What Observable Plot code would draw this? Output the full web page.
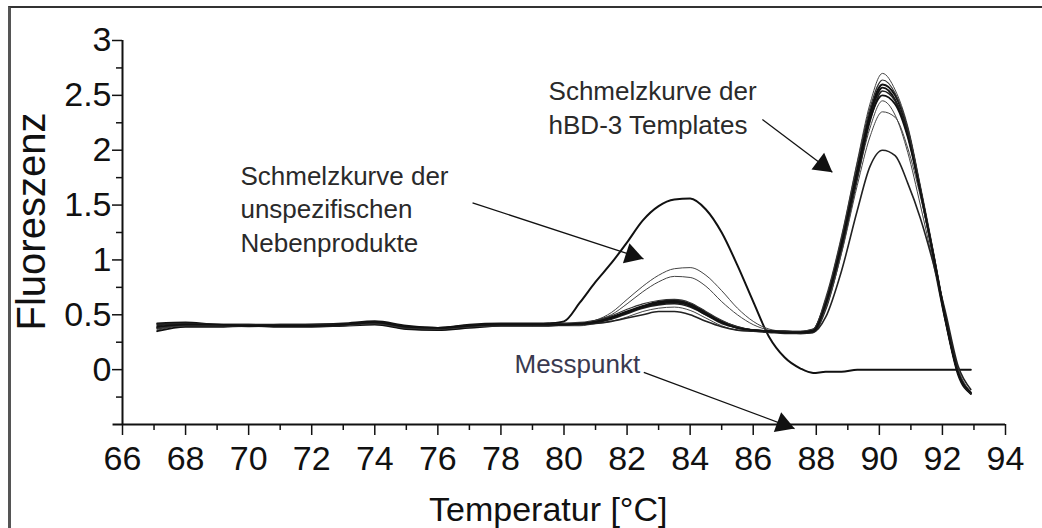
<!DOCTYPE html>
<html><head><meta charset="utf-8">
<script src="https://cdn.jsdelivr.net/npm/d3@7"></script>
<script src="https://cdn.jsdelivr.net/npm/@observablehq/plot@0.6"></script>
<style>
html,body{margin:0;padding:0;background:#fff;}
#wrap{position:relative;width:1042px;height:528px;overflow:hidden;background:#fff;}
#frame{position:absolute;left:8px;top:6px;width:1100px;height:600px;border-left:3px solid #555;border-top:2px solid #333;box-sizing:border-box;pointer-events:none;}
#chart{position:absolute;left:0;top:0;}
</style></head><body>
<div id="wrap"><div id="chart"></div><div id="frame"></div></div>
<script>
// ---------- data ----------
const temps = [67.1, 68, 69, 70, 71, 72, 73, 74, 75, 76, 77, 78, 79, 79.5, 80, 80.5, 81, 81.5, 82, 82.5, 83, 83.5, 84, 84.5, 85, 85.5, 86, 86.5, 87, 87.5, 87.9, 88.3, 88.8, 89.3, 89.7, 90.1, 90.5, 90.9, 91.3, 91.7, 92.1, 92.5, 92.9];

const nebenprodukt = [0.38, 0.41, 0.40, 0.40, 0.40, 0.40, 0.41, 0.42, 0.39, 0.38, 0.40, 0.41, 0.41, 0.42, 0.44, 0.61, 0.80, 0.97, 1.16, 1.36, 1.49, 1.55, 1.56, 1.46, 1.25, 0.95, 0.62, 0.30, 0.11, 0.01, -0.03, -0.02, -0.02, 0.00, 0.00, 0.00, 0.00, 0.00, 0.00, 0.00, 0.00, 0.00, 0.00];
const probeA = [0.36, 0.40, 0.40, 0.39, 0.40, 0.41, 0.40, 0.42, 0.37, 0.36, 0.39, 0.40, 0.40, 0.40, 0.41, 0.42, 0.45, 0.52, 0.64, 0.76, 0.86, 0.92, 0.93, 0.86, 0.72, 0.56, 0.44, 0.37, 0.35, 0.35, 0.37, 0.66, 1.22, 1.90, 2.42, 2.70, 2.55, 2.22, 1.68, 1.10, 0.48, -0.02, -0.20];
const probeB = [0.39, 0.41, 0.40, 0.40, 0.40, 0.40, 0.41, 0.43, 0.38, 0.37, 0.40, 0.41, 0.41, 0.41, 0.41, 0.42, 0.45, 0.50, 0.60, 0.71, 0.80, 0.85, 0.84, 0.76, 0.62, 0.50, 0.41, 0.36, 0.34, 0.33, 0.35, 0.60, 1.12, 1.74, 2.20, 2.45, 2.32, 1.98, 1.50, 0.98, 0.42, -0.04, -0.21];
const probeC = [0.42, 0.43, 0.41, 0.41, 0.41, 0.41, 0.42, 0.44, 0.40, 0.38, 0.41, 0.42, 0.42, 0.42, 0.42, 0.42, 0.44, 0.48, 0.53, 0.58, 0.62, 0.63, 0.60, 0.52, 0.44, 0.39, 0.36, 0.35, 0.34, 0.34, 0.36, 0.62, 1.17, 1.83, 2.34, 2.60, 2.50, 2.18, 1.64, 1.06, 0.46, -0.03, -0.22];
const probeD = [0.35, 0.39, 0.39, 0.40, 0.39, 0.39, 0.40, 0.41, 0.37, 0.36, 0.38, 0.40, 0.40, 0.40, 0.41, 0.42, 0.43, 0.47, 0.52, 0.57, 0.61, 0.62, 0.59, 0.51, 0.43, 0.38, 0.36, 0.35, 0.35, 0.34, 0.35, 0.58, 1.12, 1.78, 2.30, 2.57, 2.46, 2.14, 1.62, 1.04, 0.44, -0.05, -0.22];
const probeE = [0.40, 0.42, 0.41, 0.41, 0.40, 0.41, 0.41, 0.43, 0.39, 0.37, 0.40, 0.41, 0.41, 0.41, 0.41, 0.41, 0.43, 0.46, 0.51, 0.56, 0.59, 0.60, 0.57, 0.50, 0.42, 0.38, 0.36, 0.35, 0.34, 0.33, 0.34, 0.55, 1.08, 1.74, 2.26, 2.54, 2.45, 2.14, 1.64, 1.08, 0.48, -0.01, -0.21];
const probeF = [0.38, 0.40, 0.40, 0.40, 0.40, 0.40, 0.40, 0.42, 0.38, 0.37, 0.39, 0.40, 0.40, 0.40, 0.40, 0.40, 0.42, 0.44, 0.48, 0.53, 0.56, 0.57, 0.54, 0.47, 0.40, 0.36, 0.35, 0.34, 0.34, 0.34, 0.35, 0.56, 1.06, 1.68, 2.12, 2.35, 2.30, 2.02, 1.58, 1.05, 0.47, 0.00, -0.20];
const probeG = [0.41, 0.42, 0.41, 0.40, 0.41, 0.41, 0.41, 0.43, 0.38, 0.37, 0.40, 0.41, 0.41, 0.41, 0.41, 0.41, 0.42, 0.44, 0.47, 0.50, 0.53, 0.53, 0.50, 0.44, 0.39, 0.36, 0.35, 0.34, 0.33, 0.33, 0.34, 0.48, 0.90, 1.45, 1.85, 2.00, 1.95, 1.70, 1.38, 0.98, 0.52, 0.03, -0.18];
const probeH = [0.37, 0.40, 0.40, 0.40, 0.40, 0.40, 0.41, 0.42, 0.38, 0.37, 0.39, 0.41, 0.41, 0.41, 0.42, 0.43, 0.45, 0.49, 0.55, 0.60, 0.63, 0.64, 0.61, 0.53, 0.45, 0.39, 0.36, 0.35, 0.35, 0.35, 0.37, 0.64, 1.20, 1.88, 2.38, 2.64, 2.52, 2.20, 1.66, 1.08, 0.46, -0.03, -0.22];
const probeI = [0.39, 0.41, 0.41, 0.40, 0.40, 0.40, 0.41, 0.43, 0.39, 0.38, 0.40, 0.41, 0.41, 0.41, 0.41, 0.42, 0.43, 0.47, 0.52, 0.57, 0.60, 0.61, 0.58, 0.50, 0.43, 0.38, 0.36, 0.35, 0.34, 0.34, 0.35, 0.60, 1.14, 1.80, 2.28, 2.50, 2.42, 2.12, 1.62, 1.06, 0.46, -0.03, -0.21];

const seriesNames = ["nebenprodukt", "A", "B", "C", "D", "E", "F", "G", "H", "I"];
const seriesValues = [nebenprodukt, probeA, probeB, probeC, probeD, probeE, probeF, probeG, probeH, probeI];

const xDomain = [66, 94];
const yDomain = [-0.5, 3];
const xMajorTicks = [66, 68, 70, 72, 74, 76, 78, 80, 82, 84, 86, 88, 90, 92, 94];
const xMinorTicks = [67, 69, 71, 73, 75, 77, 79, 81, 83, 85, 87, 89, 91, 93];
const yMajorTicks = [0, 0.5, 1, 1.5, 2, 2.5, 3];
const yMinorTicks = [-0.25, 0.25, 0.75, 1.25, 1.75, 2.25, 2.75];

const xLabel = "Temperatur [°C]";
const yLabel = "Fluoreszenz";

const noteTexts = ["Schmelzkurve der\nhBD-3 Templates", "Schmelzkurve der\nunspezifischen\nNebenprodukte", "Messpunkt"];
const noteT = [79.51, 69.74, 78.43];
const noteF = [2.40, 1.478, 0.065];

const arrowFromT = [86.29, 77.10, 82.53];
const arrowFromF = [2.28, 1.52, -0.024];
const arrowToT = [88.51, 82.52, 87.31];
const arrowToF = [1.80, 1.01, -0.537];

// ---------- styles (kept apart from data) ----------
const lineWidth = {nebenprodukt: 2.0, A: 1.0, B: 1.0, C: 2.0, D: 1.8, E: 1.6, F: 1.0, G: 1.6, H: 1.2, I: 1.8};
const lineColor = {nebenprodukt: "#111", A: "#444", B: "#444", C: "#111", D: "#111", E: "#222", F: "#444", G: "#222", H: "#333", I: "#111"};
const FONT = "'Liberation Sans', Arial, Helvetica, sans-serif";

// ---------- build ----------
const rows = seriesValues.flatMap((vals, i) => vals.map((F, j) => ({series: seriesNames[i], T: temps[j], F})));
const notes = noteTexts.map((text, i) => ({text, T: noteT[i], F: noteF[i]}));
const arrows = arrowFromT.map((_, i) => ({x1: arrowFromT[i], y1: arrowFromF[i], x2: arrowToT[i], y2: arrowToF[i]}));

function makePlot(heads) {
  const lines = seriesNames.map(name => Plot.line(rows.filter(d => d.series === name), {
    x: "T", y: "F", curve: "monotone-x", stroke: lineColor[name], strokeWidth: lineWidth[name], strokeLinejoin: "round"
  }));
  return Plot.plot({
    width: 1042, height: 528,
    marginLeft: 122, marginRight: 37, marginTop: 40, marginBottom: 104,
    style: {fontFamily: FONT, background: "transparent", overflow: "visible", color: "#111"},
    x: {domain: xDomain},
    y: {domain: yDomain},
    marks: [
      ...lines,
      Plot.ruleY([yDomain[0]], {x1: xDomain[0] - 0.3, x2: xDomain[1], stroke: "#111", strokeWidth: 2}),
      Plot.ruleX([xDomain[0]], {y1: yDomain[0], y2: yDomain[1], stroke: "#111", strokeWidth: 2}),
      Plot.axisX(xMajorTicks, {tickSize: 11, tickPadding: 10, fontSize: 34, label: null, tickFormat: d => String(d), strokeWidth: 1.5, color: "#111"}),
      Plot.axisX(xMinorTicks, {tickSize: 6, tickPadding: 0, label: null, tickFormat: () => "", strokeWidth: 1.5, color: "#111"}),
      Plot.axisY(yMajorTicks, {tickSize: 10, tickPadding: 1, fontSize: 34, label: null, tickFormat: d => String(d), strokeWidth: 1.5, color: "#111"}),
      Plot.axisY(yMinorTicks, {tickSize: 6, tickPadding: 0, label: null, tickFormat: () => "", strokeWidth: 1.5, color: "#111"}),
      Plot.text([yLabel], {x: xDomain[0], y: 1.35, text: d => d, rotate: -90, dx: -90, fontSize: 40, fill: "#111", textAnchor: "middle", lineAnchor: "middle"}),
      Plot.text([xLabel], {x: 79.5, y: yDomain[0], text: d => d, dy: 86, fontSize: 34, fill: "#111", textAnchor: "middle", lineAnchor: "middle"}),
      Plot.text(notes, {x: "T", y: "F", text: "text", textAnchor: "start", lineAnchor: "middle", fontSize: 26, lineHeight: 1.3, fill: (d) => d.text === "Messpunkt" ? "#3a3a50" : "#2a2a2a"}),
      Plot.link(arrows, {x1: "x1", y1: "y1", x2: "x2", y2: "y2", stroke: "#111", strokeWidth: 1.3}),
      ...(heads.length ? [Plot.dot(heads, {x: "hx", y: "hy", symbol: "triangle", r: 7.8, rotate: "angle", fill: "#111", stroke: "none"})] : [])
    ]
  });
}

const first = makePlot([]);
const sx = first.scale("x"), sy = first.scale("y");
const h = 7.8 * Math.sqrt(Math.PI / (3 * Math.sqrt(3)));
const heads = arrows.map(a => {
  const px1 = sx.apply(a.x1), py1 = sy.apply(a.y1), px2 = sx.apply(a.x2), py2 = sy.apply(a.y2);
  const len = Math.hypot(px2 - px1, py2 - py1);
  const ux = (px2 - px1) / len, uy = (py2 - py1) / len;
  const cx = px2 - ux * 2 * h, cy = py2 - uy * 2 * h;
  return {hx: sx.invert(cx), hy: sy.invert(cy), angle: Math.atan2(ux, -uy) * 180 / Math.PI};
});
document.getElementById("chart").append(makePlot(heads));
</script>
</body></html>
